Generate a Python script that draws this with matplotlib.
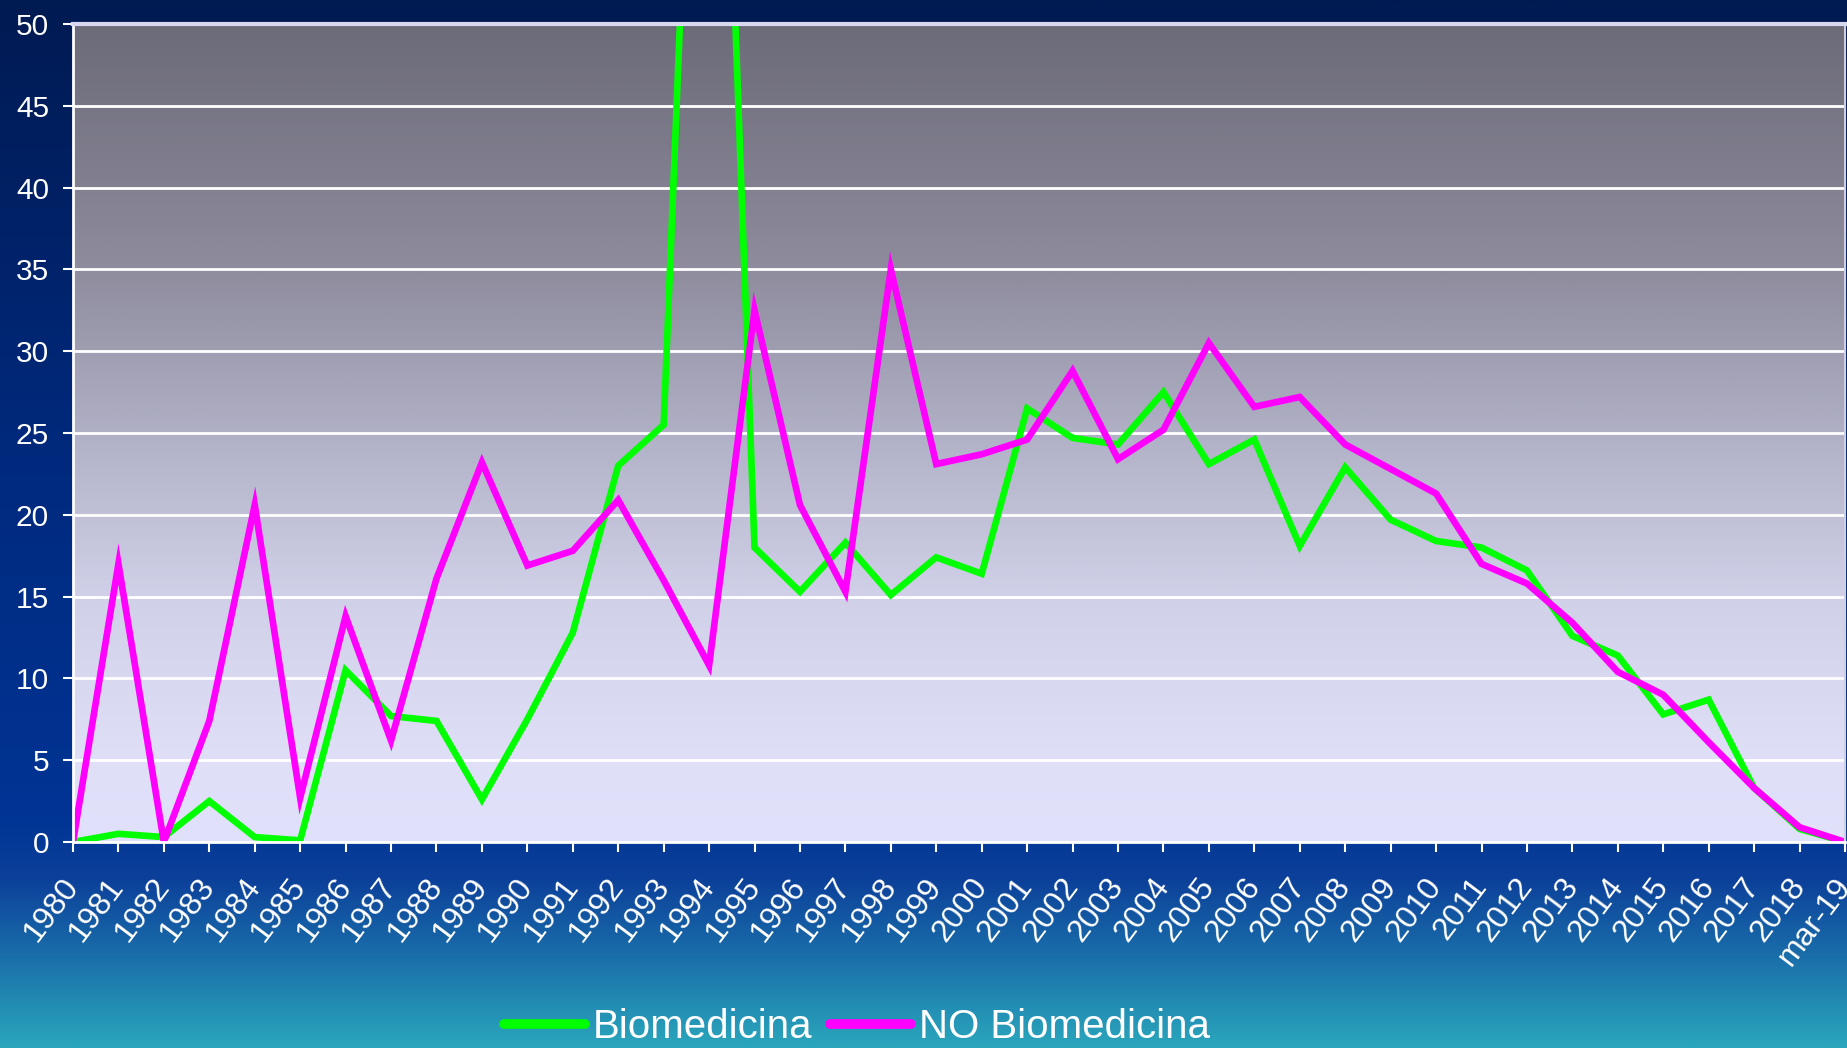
import numpy as np
import matplotlib
matplotlib.use("Agg")
import matplotlib.pyplot as plt
from matplotlib.colors import LinearSegmentedColormap
from matplotlib.lines import Line2D

plt.rcParams['font.family'] = ['Liberation Sans', 'DejaVu Sans']

categories = [str(y) for y in range(1980, 2019)] + ["mar-19"]

biomedicina = [0.0, 0.5, 0.3, 2.5, 0.3, 0.1, 10.5, 7.7, 7.4, 2.6,
               7.5, 12.8, 23.0, 25.5, 94.0, 18.0, 15.3, 18.3, 15.1, 17.4,
               16.4, 26.5, 24.7, 24.3, 27.5, 23.1, 24.6, 18.1, 22.9, 19.7,
               18.4, 18.0, 16.6, 12.6, 11.4, 7.8, 8.7, 3.3, 0.8, 0.0]

no_biomedicina = [0.0, 17.0, 0.0, 7.4, 20.6, 2.7, 13.8, 6.2, 16.1, 23.2,
                  16.9, 17.8, 20.9, 16.0, 10.8, 32.5, 20.6, 15.3, 35.0, 23.1,
                  23.7, 24.6, 28.8, 23.4, 25.2, 30.5, 26.6, 27.2, 24.3, 22.8,
                  21.3, 17.0, 15.8, 13.4, 10.4, 9.0, 6.1, 3.3, 0.9, 0.0]

yticks = list(range(0, 51, 5))

W, H, DPI = 1847, 1048, 100
fig = plt.figure(figsize=(W / DPI, H / DPI), dpi=DPI)

# figure background gradient
bg = fig.add_axes([0, 0, 1, 1], zorder=-10)
bg_cmap = LinearSegmentedColormap.from_list("bg", [
    (0.0, "#001a52"), (0.42, "#00297c"), (0.78, "#003495"),
    (0.84, "#0c409a"), (0.92, "#1b72ab"), (1.0, "#2aa6bc")])
grad = np.linspace(0, 1, 512).reshape(-1, 1)
bg.imshow(grad, aspect='auto', cmap=bg_cmap, extent=[0, 1, 0, 1], origin='upper')
bg.set_axis_off()

left, right = 73 / W, 1845 / W
bottom, top = 1 - 842 / H, 1 - 24 / H
ax = fig.add_axes([left, bottom, right - left, top - bottom])
ax.patch.set_alpha(0)

x = np.arange(len(categories))
ax.set_xlim(0, len(categories) - 1)
ax.set_ylim(0, 50)

pa_cmap = LinearSegmentedColormap.from_list("pa", [
    (0.0, "#e1e1fb"), (0.1, "#dfdff8"), (0.3, "#d0d0e8"),
    (0.5, "#b0b0c6"), (0.7, "#8e8c9d"), (1.0, "#6c6b79")])
pgrad = np.linspace(0, 1, 512).reshape(-1, 1)
ax.imshow(pgrad, aspect='auto', cmap=pa_cmap, extent=[0, len(categories) - 1, 0, 50],
          origin='lower', zorder=0)

for yv in yticks:
    ax.axhline(yv, color='white', lw=2, zorder=1)

ax.plot(x, biomedicina, color='#00ff00', lw=4.8, zorder=3, label='Biomedicina',
        solid_joinstyle='miter')
ax.plot(x, no_biomedicina, color='#ff00ff', lw=4.8, zorder=4, label='NO Biomedicina',
        solid_joinstyle='miter')

ax.set_yticks(yticks)
ax.set_yticklabels([str(v) for v in yticks], color='white', fontsize=21.5)
ax.set_xticks(x)
ax.set_xticklabels(categories, rotation=53, ha='right', va='center', color='white',
                   fontsize=23, rotation_mode='anchor')
ax.tick_params(axis='y', colors='white', length=7.2, width=1.5, pad=10, labelcolor='white')
ax.tick_params(axis='x', colors='white', length=7.2, width=1.5, pad=21, labelcolor='white')

for s in ['left', 'bottom']:
    ax.spines[s].set_color('white')
    ax.spines[s].set_linewidth(2)
ax.spines['top'].set_color('#d8d8f0')
ax.spines['top'].set_linewidth(3)
ax.spines['right'].set_color('#d0d0e0')
ax.spines['right'].set_linewidth(1.5)
for s in ax.spines.values():
    s.set_zorder(5)

handles = [Line2D([0], [0], color='#00ff00', lw=7, solid_capstyle='round'),
           Line2D([0], [0], color='#ff00ff', lw=7, solid_capstyle='round')]
fig.legend(handles, ['Biomedicina', 'NO Biomedicina'], loc='center',
           bbox_to_anchor=(857 / W, 1 - 1027 / H), ncol=2, frameon=False,
           fontsize=29, labelcolor='white', handlelength=2.0, handletextpad=0.2,
           columnspacing=0.45, borderpad=0, borderaxespad=0)

fig.savefig("out.png", dpi=DPI)
